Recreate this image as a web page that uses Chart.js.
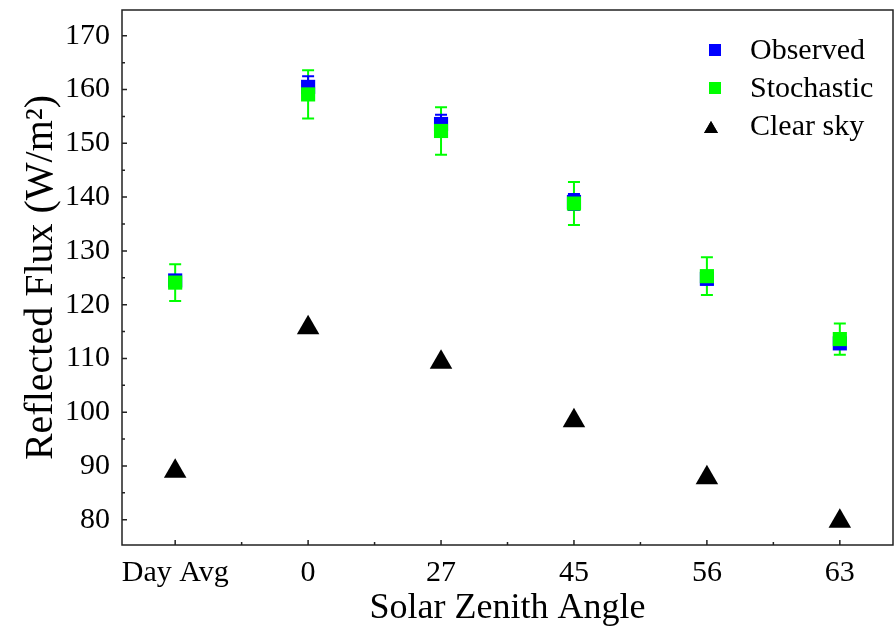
<!DOCTYPE html>
<html>
<head>
<meta charset="utf-8">
<script src="https://cdn.jsdelivr.net/npm/chart.js@4.4.1/dist/chart.umd.min.js"></script>
<style>
  html, body { margin: 0; padding: 0; background: #fff; }
  #wrap { width: 896px; height: 628px; position: relative; }
</style>
</head>
<body>
<div id="wrap"><canvas id="flux-chart"></canvas></div>
<script>
// Data
const categories = ['Day Avg', '0', '27', '45', '56', '63'];
const observed = [124.5, 160.5, 153.6, 139.1, 124.8, 112.8];
const observedErr = [1.0, 2.0, 1.7, 1.5, 1.0, 1.0];
const stochastic = [124.1, 159.1, 152.3, 138.8, 125.3, 113.6];
const stochasticErr = [3.4, 4.5, 4.4, 4.0, 3.5, 2.9];
const clearSky = [89.0, 115.7, 109.3, 98.4, 87.8, 79.7];
const yTicks = [80, 90, 100, 110, 120, 130, 140, 150, 160, 170];
const yMinorTicks = [85, 95, 105, 115, 125, 135, 145, 155, 165];
const xMinorTicks = [0.5, 1.5, 2.5, 3.5, 4.5];

const BLUE = '#0000ff';
const GREEN = '#00ff00';
const BLACK = '#000000';
const FONT = '"Liberation Serif", "Times New Roman", serif';

function toPoints(values) {
    return values.map((y, i) => ({ x: i, y: y }));
}

// no extra room for edge labels, the box is fixed
function noEdgePadding(scale) {
    scale.paddingTop = 0;
    scale.paddingBottom = 0;
    scale.paddingLeft = 0;
    scale.paddingRight = 0;
}

// Vertical error bars with caps, behind the markers
const errorBars = {
    id: 'errorBars',
    beforeDatasetsDraw(chart) {
        const ctx = chart.ctx;
        const xs = chart.scales.x;
        const ys = chart.scales.y;
        const sets = [
            { vals: stochastic, errs: stochasticErr, color: GREEN },
            { vals: observed, errs: observedErr, color: BLUE }
        ];
        ctx.save();
        ctx.lineWidth = 2;
        sets.forEach(s => {
            ctx.strokeStyle = s.color;
            s.vals.forEach((v, i) => {
                const px = xs.getPixelForValue(i);
                const top = ys.getPixelForValue(v + s.errs[i]);
                const bot = ys.getPixelForValue(v - s.errs[i]);
                ctx.beginPath();
                ctx.moveTo(px, top);
                ctx.lineTo(px, bot);
                ctx.moveTo(px - 6, top);
                ctx.lineTo(px + 6, top);
                ctx.moveTo(px - 6, bot);
                ctx.lineTo(px + 6, bot);
                ctx.stroke();
            });
        });
        ctx.restore();
    }
};

// Box frame, inward tick marks and the legend
const frameAndLegend = {
    id: 'frameAndLegend',
    afterDraw(chart) {
        const ctx = chart.ctx;
        const a = chart.chartArea;
        const xs = chart.scales.x;
        const ys = chart.scales.y;
        ctx.save();
        ctx.strokeStyle = '#222';
        ctx.lineWidth = 1.5;
        ctx.strokeRect(a.left, a.top, a.right - a.left, a.bottom - a.top);

        ctx.beginPath();
        yTicks.forEach(v => {
            const py = ys.getPixelForValue(v);
            ctx.moveTo(a.left, py);
            ctx.lineTo(a.left + 5, py);
        });
        yMinorTicks.forEach(v => {
            const py = ys.getPixelForValue(v);
            ctx.moveTo(a.left, py);
            ctx.lineTo(a.left + 3, py);
        });
        categories.forEach((c, i) => {
            const px = xs.getPixelForValue(i);
            ctx.moveTo(px, a.bottom);
            ctx.lineTo(px, a.bottom - 5);
        });
        xMinorTicks.forEach(v => {
            const px = xs.getPixelForValue(v);
            ctx.moveTo(px, a.bottom);
            ctx.lineTo(px, a.bottom - 3);
        });
        ctx.stroke();

        // legend
        const entries = [
            { label: 'Observed', style: 'rect', color: BLUE, radius: 8.5 },
            { label: 'Stochastic', style: 'rect', color: GREEN, radius: 8.5 },
            { label: 'Clear sky', style: 'triangle', color: BLACK, radius: 8 }
        ];
        ctx.font = '30px ' + FONT;
        ctx.textBaseline = 'middle';
        ctx.textAlign = 'left';
        entries.forEach((e, i) => {
            const y = a.top + 40 + i * 38;
            Chart.helpers.drawPoint(ctx, {
                pointStyle: e.style,
                radius: e.radius,
                borderWidth: 0
            }, a.right - 178 + (e.style === 'triangle' ? -4 : 0), y + (e.style === 'triangle' ? 3 : 0));
            ctx.fillStyle = e.color;
            ctx.fill();
            ctx.fillStyle = BLACK;
            ctx.fillText(e.label, a.right - 143, y + 1);
        });
        ctx.restore();
    }
};

const ctx = document.getElementById('flux-chart').getContext('2d');

const chart = new Chart(ctx, {
    type: 'scatter',
    data: {
        datasets: [
            {
                label: 'Stochastic',
                data: toPoints(stochastic),
                pointStyle: 'rect',
                pointRadius: 10,
                backgroundColor: GREEN,
                borderColor: GREEN,
                borderWidth: 0,
                order: 0
            },
            {
                label: 'Observed',
                data: toPoints(observed),
                pointStyle: 'rect',
                pointRadius: 10,
                backgroundColor: BLUE,
                borderColor: BLUE,
                borderWidth: 0,
                order: 1
            },
            {
                label: 'Clear sky',
                data: toPoints(clearSky),
                pointStyle: 'triangle',
                pointRadius: 13,
                backgroundColor: BLACK,
                borderColor: BLACK,
                borderWidth: 0,
                order: 2
            }
        ]
    },
    options: {
        responsive: true,
        maintainAspectRatio: false,
        animation: false,
        layout: {
            autoPadding: false,
            padding: { left: 0, right: 3, top: 10, bottom: 0 }
        },
        plugins: {
            legend: { display: false },
            tooltip: { enabled: false }
        },
        scales: {
            x: {
                type: 'linear',
                min: -0.4,
                max: 5.4,
                grid: { display: false, drawTicks: false },
                border: { display: false },
                afterBuildTicks: scale => {
                    scale.ticks = categories.map((c, i) => ({ value: i }));
                },
                afterFit: scale => {
                    scale.height = 83;
                    noEdgePadding(scale);
                },
                ticks: {
                    padding: 10,
                    color: BLACK,
                    font: { family: FONT, size: 30 },
                    maxRotation: 0,
                    autoSkip: false,
                    callback: value => categories[value]
                },
                title: {
                    display: true,
                    text: 'Solar Zenith Angle',
                    color: BLACK,
                    font: { family: FONT, size: 36, lineHeight: 1 },
                    padding: 1
                }
            },
            y: {
                min: 75.3,
                max: 174.8,
                grid: { display: false, drawTicks: false },
                border: { display: false },
                afterBuildTicks: scale => {
                    scale.ticks = yTicks.map(v => ({ value: v }));
                },
                afterFit: scale => {
                    scale.width = 122;
                    noEdgePadding(scale);
                },
                ticks: {
                    padding: 12,
                    color: BLACK,
                    font: { family: FONT, size: 30 }
                },
                title: {
                    display: true,
                    text: 'Reflected Flux (W/m²)',
                    color: BLACK,
                    font: { family: FONT, size: 40, lineHeight: 1 },
                    padding: 21
                }
            }
        }
    },
    plugins: [errorBars, frameAndLegend]
});
</script>
</body>
</html>
